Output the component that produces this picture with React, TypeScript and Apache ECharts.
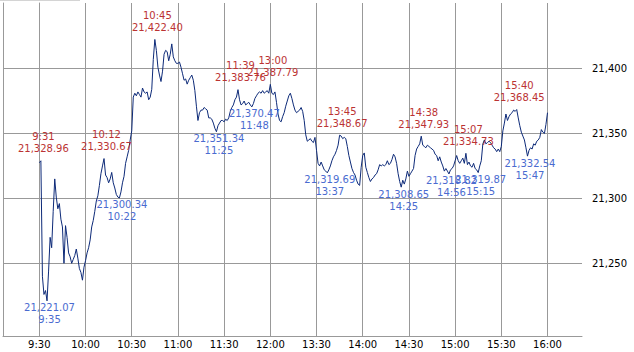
import React, { useEffect, useRef } from "react";
import * as echarts from "echarts";

// Hang Seng intraday, 9:30-11:59 (one value per minute)
const morningPrices = [
  21327.5, 21328.96, 21240, 21226, 21229, 21221.07, 21244, 21270, 21262, 21290,
  21315, 21301, 21292, 21296, 21284, 21278, 21250, 21279, 21270, 21258,
  21255, 21250, 21253, 21256, 21261, 21254, 21246, 21243, 21237, 21247,
  21252, 21258, 21262, 21268, 21278, 21283, 21290, 21298, 21302, 21310,
  21319, 21325, 21330.67, 21318, 21316, 21312, 21315, 21320, 21312, 21308,
  21303, 21301, 21300.34, 21305, 21312, 21317, 21327, 21332, 21337, 21345,
  21352, 21378, 21381, 21379, 21382, 21380, 21378, 21385, 21382, 21381,
  21382, 21376, 21378, 21384, 21407, 21422.4, 21414, 21401, 21395, 21390,
  21398, 21411, 21414, 21413, 21406, 21411, 21419, 21409, 21406, 21404,
  21404, 21405, 21401, 21396, 21391, 21392, 21388, 21391, 21393, 21395,
  21391, 21383, 21371, 21360, 21366, 21368, 21368, 21370, 21369, 21368,
  21362, 21362, 21361, 21358, 21354, 21351.34, 21356, 21358, 21360, 21360,
  21359, 21361, 21360, 21362, 21367, 21370, 21372, 21376, 21378, 21383.76,
  21376, 21372, 21373, 21375, 21372, 21373, 21374, 21372, 21370.47, 21373,
  21377, 21379, 21381, 21382, 21381, 21383, 21381, 21382, 21383, 21381,
];

// 13:00-16:00 (one value per minute)
const afternoonPrices = [
  21387.79, 21381, 21380, 21382, 21374, 21365, 21360, 21359, 21363, 21366,
  21371, 21375, 21379, 21381, 21377, 21372, 21368, 21366, 21367, 21368,
  21370, 21367, 21360, 21349, 21344, 21345, 21346, 21344, 21343, 21347,
  21337, 21327, 21325, 21328, 21325, 21322, 21321, 21319.69, 21322, 21325,
  21329, 21332, 21334, 21337, 21341, 21348.67, 21348, 21346, 21347, 21346,
  21340, 21333, 21328, 21323, 21320, 21318, 21314, 21311, 21310, 21324,
  21333, 21335, 21324, 21320, 21316, 21313, 21315, 21316, 21318, 21319,
  21322, 21326, 21325, 21326, 21325, 21326, 21329, 21326, 21327, 21330,
  21334, 21332, 21327, 21319, 21313, 21308.65, 21314, 21311, 21315, 21321,
  21317, 21319, 21321, 21323, 21333, 21338, 21340, 21342, 21347.93, 21341,
  21340, 21339, 21341, 21340, 21339, 21338, 21337, 21334, 21333, 21329,
  21332, 21328, 21325, 21321, 21323, 21321, 21318.82, 21322, 21323, 21325,
  21329, 21333, 21329, 21327, 21329, 21331, 21327, 21334.73, 21326, 21328,
  21325, 21324, 21327, 21323, 21322, 21319.87, 21325, 21329, 21342, 21345,
  21342, 21343, 21344, 21343, 21341, 21339, 21338, 21336, 21338, 21336,
  21340, 21352, 21358, 21365, 21360, 21363, 21365, 21366, 21368, 21367,
  21368.45, 21362, 21356, 21351, 21348, 21345, 21339, 21332.54, 21337, 21339,
  21338, 21342, 21341, 21344, 21345, 21347, 21353, 21351, 21350, 21357,
  21366,
];

const axisTimes = ["9:30", "10:00", "10:30", "11:00", "11:30", "12:00", "13:30", "14:00", "14:30", "15:00", "15:30", "16:00"];
const yTicks = [21250, 21300, 21350, 21400];

const highTimes = ["9:31", "10:12", "10:45", "11:39", "13:00", "13:45", "14:38", "15:07", "15:40"];
const highValues = [21328.96, 21330.67, 21422.4, 21383.76, 21387.79, 21348.67, 21347.93, 21334.73, 21368.45];
const lowTimes = ["9:35", "10:22", "11:25", "11:48", "13:37", "14:25", "14:56", "15:15", "15:47"];
const lowValues = [21221.07, 21300.34, 21351.34, 21370.47, 21319.69, 21308.65, 21318.82, 21319.87, 21332.54];

const RED = "#bb3333";
const BLUE = "#4a6bd0";
const LINE = "#0d2a78";
const GRID = "#999999";
const FONT = "DejaVu Sans";

// trading minutes since 9:30, lunch break (12:00-13:00) collapsed
function tradingMinute(t: string): number {
  const [h, m] = t.split(":").map(Number);
  const mins = h * 60 + m;
  return mins >= 780 ? mins - 630 : mins - 570;
}

const fmt2 = (v: number) =>
  v.toLocaleString("en-US", { minimumFractionDigits: 2, maximumFractionDigits: 2 });

export default function App() {
  const ref = useRef<HTMLDivElement>(null);

  useEffect(() => {
    if (!ref.current) return;
    const chart = echarts.init(ref.current, undefined, { renderer: "svg" });

    const data: [number, number][] = [
      ...morningPrices.map((v, i) => [i, v] as [number, number]),
      ...afternoonPrices.map((v, i) => [150 + i, v] as [number, number]),
    ];

    const xTickValues = axisTimes.map(tradingMinute);
    const xLabelMap: Record<number, string> = {};
    axisTimes.forEach((t) => {
      xLabelMap[tradingMinute(t)] = t;
    });

    const highs = highTimes.map((t, i) => ({
      coord: [tradingMinute(t), highValues[i]],
      value: highValues[i],
      label: {
        position: "top",
        distance: 6,
        color: RED,
        formatter: `${t}\n${fmt2(highValues[i])}`,
      },
    }));
    const lows = lowTimes.map((t, i) => ({
      coord: [tradingMinute(t), lowValues[i]],
      value: lowValues[i],
      label: {
        position: "bottom",
        distance: 1,
        color: BLUE,
        formatter: `${fmt2(lowValues[i])}\n${t}`,
      },
    }));

    chart.setOption({
      animation: false,
      backgroundColor: "#ffffff",
      grid: { left: 3, right: 52, top: 3, bottom: 16, containLabel: false, outerBoundsMode: "none" },
      graphic: [
        { type: "rect", left: 0, top: 0, shape: { width: 80, height: 1 }, style: { fill: "#d4d4d4" }, silent: true },
      ],
      xAxis: {
        type: "value",
        min: -23.6,
        max: 352.4,
        axisLine: { show: true, lineStyle: { color: GRID, width: 1 } },
        axisTick: { show: false, customValues: xTickValues },
        axisLabel: {
          customValues: xTickValues,
          formatter: (v: number) => xLabelMap[v] ?? "",
          color: "#000",
          fontSize: 10,
          fontFamily: FONT,
          margin: 3,
        },
        splitLine: { show: true, lineStyle: { color: GRID, width: 1 } },
      },
      yAxis: [
        {
          type: "value",
          position: "right",
          min: 21194,
          max: 21450.5,
          axisLine: { show: true, lineStyle: { color: GRID, width: 1 } },
          axisTick: { show: true, length: 5, customValues: yTicks, lineStyle: { color: GRID } },
          axisLabel: {
            customValues: yTicks,
            formatter: (v: number) => v.toLocaleString("en-US"),
            color: "#000",
            fontSize: 10,
            fontFamily: FONT,
            margin: 10,
          },
          splitLine: { show: true, lineStyle: { color: GRID, width: 1 } },
        },
        {
          type: "value",
          position: "left",
          min: 21194,
          max: 21450.5,
          axisLine: { show: true, lineStyle: { color: GRID, width: 1 } },
          axisTick: { show: false },
          axisLabel: { show: false },
          splitLine: { show: false },
        },
      ],
      series: [
        {
          type: "line",
          data,
          yAxisIndex: 0,
          showSymbol: false,
          symbol: "none",
          lineStyle: { color: LINE, width: 1 },
          emphasis: { disabled: true },
          markPoint: {
            symbol: "circle",
            symbolSize: 0,
            silent: true,
            label: {
              show: true,
              fontSize: 10,
              fontFamily: FONT,
              lineHeight: 12,
              offset: [2.5, 0],
            },
            data: [...highs, ...lows],
          },
        },
      ],
    });

    return () => chart.dispose();
  }, []);

  return (
    <div
      ref={ref}
      style={{ position: "absolute", left: 0, top: 0, width: 634, height: 352 }}
    />
  );
}
